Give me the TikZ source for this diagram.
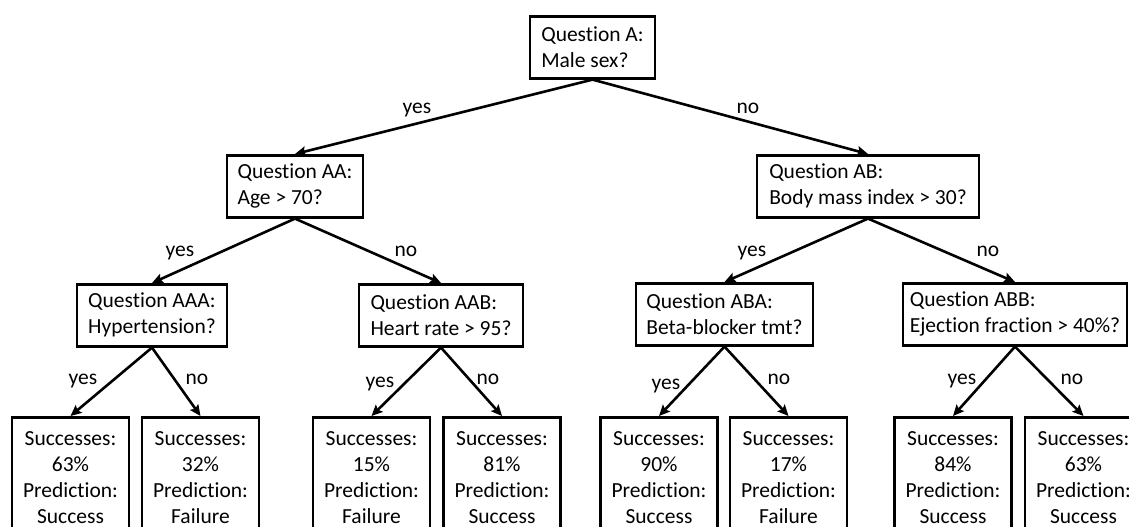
\documentclass[tikz,border=0pt]{standalone}
\usepackage{fontspec}
\setmainfont[RawFeature=-liga]{Carlito}
\usetikzlibrary{arrows.meta}
\tikzset{
  qbox/.style={draw=black, line width=2.6pt, fill=white, align=left, inner xsep=0pt, inner ysep=0pt, minimum width=#1, minimum height=62pt, anchor=north},
  leafbox/.style={draw=black, line width=2.6pt, fill=white, align=center, inner sep=0pt, minimum width=#1, minimum height=120pt, anchor=north},
  conn/.style={line width=2.6pt, -{Stealth[length=11pt,width=10pt,inset=2pt]}},
  lbl/.style={anchor=base, inner sep=0pt},
}
\begin{document}
\begin{tikzpicture}[x=1pt,y=-1pt]
\fontsize{21.5}{26}\selectfont
\useasboundingbox (0,0) rectangle (1129,527);
\clip (0,0) rectangle (1129,527);
% question nodes
\node[qbox=125pt] (A) at (592.5,15) {Question A:\\Male sex?};
\node[qbox=136pt] (AA) at (295,154) {Question AA:\\Age > 70?};
\node[qbox=222pt] (AB) at (868,154) {Question AB:\\Body mass index > 30?};
\node[qbox=150pt] (AAA) at (152,283) {Question AAA:\\Hypertension?};
\node[qbox=164pt] (AAB) at (441,283) {Question AAB:\\Heart rate > 95?};
\node[qbox=177pt] (ABA) at (724.5,282) {Question ABA:\\Beta-blocker tmt?};
\node[qbox=224pt] (ABB) at (1015,282) {Question ABB:\\Ejection fraction > 40\%?};
% leaves
\node[leafbox=117pt] (L1) at (70.5,416) {Successes:\\63\%\\Prediction:\\Success};
\node[leafbox=117pt] (L2) at (200.5,416) {Successes:\\32\%\\Prediction:\\Failure};
\node[leafbox=117pt] (L3) at (371.5,416) {Successes:\\15\%\\Prediction:\\Failure};
\node[leafbox=117pt] (L4) at (502,416) {Successes:\\81\%\\Prediction:\\Success};
\node[leafbox=117pt] (L5) at (659,416) {Successes:\\90\%\\Prediction:\\Success};
\node[leafbox=117pt] (L6) at (788.5,416) {Successes:\\17\%\\Prediction:\\Failure};
\node[leafbox=117pt] (L7) at (953,416) {Successes:\\84\%\\Prediction:\\Success};
\node[leafbox=117pt] (L8) at (1083.5,416) {Successes:\\63\%\\Prediction:\\Success};
% connectors
\draw[conn] (A.south) -- (AA.north);
\draw[conn] (A.south) -- (AB.north);
\draw[conn] (AA.south) -- (AAA.north);
\draw[conn] (AA.south) -- (AAB.north);
\draw[conn] (AB.south) -- (ABA.north);
\draw[conn] (AB.south) -- (ABB.north);
\draw[conn] (AAA.south) -- (L1.north);
\draw[conn] (AAA.south) -- (L2.north);
\draw[conn] (AAB.south) -- (L3.north);
\draw[conn] (AAB.south) -- (L4.north);
\draw[conn] (ABA.south) -- (L5.north);
\draw[conn] (ABA.south) -- (L6.north);
\draw[conn] (ABB.south) -- (L7.north);
\draw[conn] (ABB.south) -- (L8.north);
% labels
\node[lbl] (y1) at (417,113) {yes};
\node[lbl] (n1) at (748,113) {no};
\node[lbl] (y2) at (180,256) {yes};
\node[lbl] (n2) at (406,256) {no};
\node[lbl] (y3) at (752,256) {yes};
\node[lbl] (n3) at (988,256) {no};
\node[lbl] (y4) at (83,384) {yes};
\node[lbl] (n4) at (197,384) {no};
\node[lbl] (y5) at (380,387) {yes};
\node[lbl] (n5) at (488,384) {no};
\node[lbl] (y6) at (666,389) {yes};
\node[lbl] (n6) at (779,384) {no};
\node[lbl] (y7) at (962,384) {yes};
\node[lbl] (n7) at (1072,384) {no};
\end{tikzpicture}
\end{document}
